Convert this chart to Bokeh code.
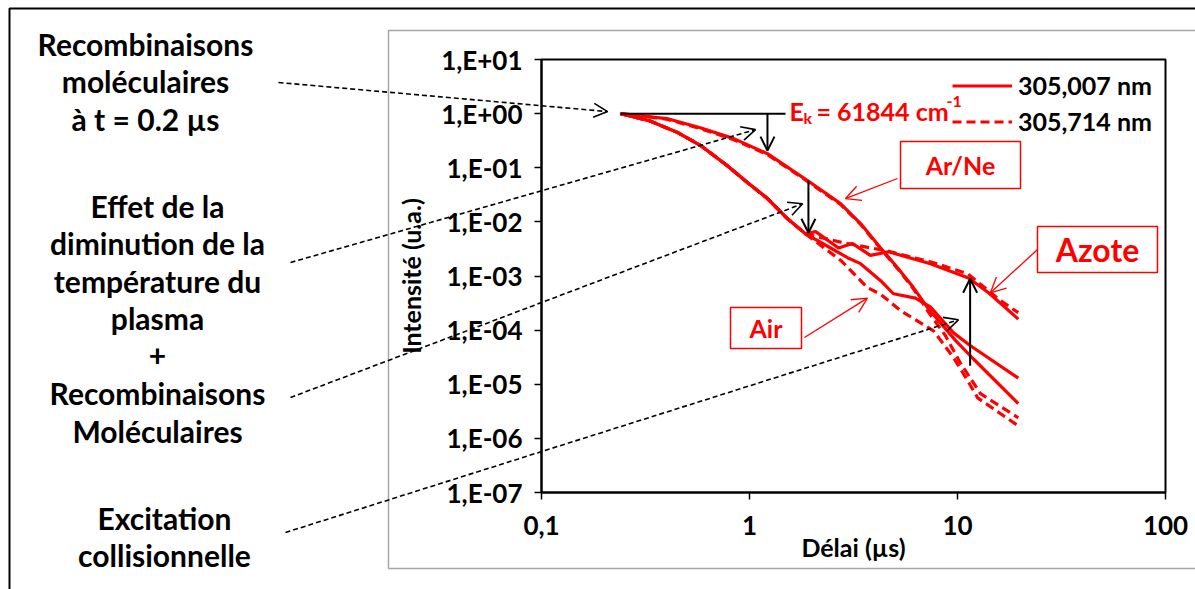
import math
from bokeh.plotting import figure
from bokeh.models import (Range1d, FixedTicker, CustomJSTickFormatter, Label, Arrow, OpenHead,
                          BoxAnnotation, PolyAnnotation, Legend, LegendItem, LogAxis)
from bokeh.embed import file_html
from bokeh.resources import INLINE

FONT = "Lato"
RED = "#FF0000"

# ---------------- data (delay in µs, intensity in a.u.) ----------------
t_common = [0.24, 0.33, 0.45, 0.58, 0.78, 0.98, 1.22, 1.52, 1.86]
i_common = [1.0, 0.74, 0.45, 0.26, 0.11, 0.053, 0.027, 0.0115, 0.0060]

arne_t = [0.24, 0.40, 0.58, 0.84, 1.22, 1.90, 2.74, 3.42, 4.27, 5.15, 6.14, 7.18, 9.8, 11.9, 19.6]
arne_solid = [1.0, 0.81, 0.55, 0.345, 0.182, 0.058, 0.0217, 0.0093, 0.0033, 0.00142, 0.00061,
              0.00026, 6.4e-5, 2.96e-5, 4.4e-6]
arne_dash_t = [0.24, 0.40, 0.58, 0.84, 1.22, 1.90, 2.74, 3.42, 4.27, 5.15, 6.14, 7.18, 8.75, 10.3, 12.9, 19.6]
arne_dash = [1.0, 0.79, 0.53, 0.33, 0.175, 0.056, 0.021, 0.0090, 0.0032, 0.00137, 0.00058,
             0.000228, 7.9e-5, 2.5e-5, 6.7e-6, 2.4e-6]

air_t = t_common + [2.27, 2.96, 3.42, 4.27, 4.92, 6.28, 7.4, 9.57, 11.5, 19.6]
air_solid = i_common + [0.0039, 0.00218, 0.00169, 8.2e-4, 4.7e-4, 3.9e-4, 2.7e-4, 8.9e-5, 5.2e-5, 1.3e-5]
air_dash_t = t_common + [2.77, 3.69, 4.27, 5.32, 7.67, 9.57, 11.2, 12.5, 19.6]
air_dash = i_common + [0.00189, 6.1e-4, 4.6e-4, 2.3e-4, 9.7e-5, 3.1e-5, 1.16e-5, 5.6e-6, 1.7e-6]

azote_t = t_common + [2.08, 2.68, 3.12, 3.81, 4.66, 7.41, 11.3, 14.1, 19.6]
azote_solid = i_common + [0.0066, 0.0033, 0.0040, 0.0024, 0.0028, 0.00168, 0.00092, 4.9e-4, 1.6e-4]
azote_dash_t = t_common + [2.83, 4.61, 7.67, 11.2, 16.1, 19.6]
azote_dash = i_common + [0.0041, 0.0029, 0.00176, 0.0011, 3.5e-4, 2.1e-4]

x_ticks = [0.1, 1, 10, 100]
y_ticks = [1e-7, 1e-6, 1e-5, 1e-4, 1e-3, 1e-2, 1e-1, 1, 10]

legend_labels = ["305,007 nm", "305,714 nm"]
gas_labels = ["Ar/Ne", "Azote", "Air"]
left_texts = [
    ["Recombinaisons", "moléculaires", "à t = 0.2 µs"],
    ["Effet de la", "diminution de la", "température du", "plasma", "+", "Recombinaisons", "Moléculaires"],
    ["Excitation", "collisionnelle"],
]

# annotation anchors (data coordinates)
ek_line = dict(x0=0.24, x1=1.49, y=1.0)
down_arrows = [(1.22, 1.0, 0.207), (1.92, 0.058, 0.0063)]
up_arrow = (11.5, 2.2e-5, 8.9e-4)
pointer_tips = [(0.208, 1.09), (1.069, 0.506), (1.80, 0.0216), (10.1, 1.55e-4)]
gas_tips = [(2.89, 0.0268), (14.4, 4.9e-4), (3.69, 3.9e-4)]

# ---------------- figure (frame = whole canvas) ----------------
W, H = 1195, 589
AX_L, AX_R, AX_T, AX_B = 541, 1165, 59, 492       # plot-area edges in canvas px
XMIN, XMAX, YMIN, YMAX = x_ticks[0], x_ticks[-1], y_ticks[0], y_ticks[-1]
dx = (AX_R - AX_L) / math.log10(XMAX / XMIN)
dy = (AX_B - AX_T) / math.log10(YMAX / YMIN)
x_range = Range1d(10 ** (math.log10(XMIN) - AX_L / dx), 10 ** (math.log10(XMAX) + (W - AX_R) / dx))
y_range = Range1d(10 ** (math.log10(YMIN) - (H - AX_B) / dy), 10 ** (math.log10(YMAX) + AX_T / dy))

p = figure(width=W, height=H, x_axis_type="log", y_axis_type="log",
           x_range=x_range, y_range=y_range, x_axis_location=None, y_axis_location=None,
           output_backend="svg", toolbar_location=None,
           min_border_left=0, min_border_top=0, min_border_right=0, min_border_bottom=0)
p.grid.visible = False
p.outline_line_color = None
p.background_fill_color = "white"
p.border_fill_color = "white"


def sx(page_x):
    return page_x


def sy(page_y):
    return H - page_y


# ---------------- borders of the picture ----------------
p.add_layout(PolyAnnotation(xs=[sx(9), sx(1400), sx(1400), sx(9)], ys=[sy(8), sy(8), sy(800), sy(800)],
                            xs_units="screen", ys_units="screen", fill_alpha=0,
                            line_color="black", line_alpha=1, line_width=2, level="underlay"))
p.add_layout(PolyAnnotation(xs=[sx(388), sx(1400), sx(1400), sx(388)], ys=[sy(30), sy(30), sy(568), sy(568)],
                            xs_units="screen", ys_units="screen", fill_alpha=0,
                            line_color="#A6A6A6", line_alpha=1, line_width=1.5, level="underlay"))
p.add_layout(BoxAnnotation(left=XMIN, right=XMAX, bottom=YMIN, top=YMAX, fill_alpha=0,
                           line_color="black", line_alpha=1, line_width=2, level="underlay"))

# ---------------- axes ----------------
xaxis = LogAxis(fixed_location=YMIN, bounds=(XMIN, XMAX), ticker=FixedTicker(ticks=x_ticks),
                axis_label="Délai (µs)")
yaxis = LogAxis(fixed_location=XMIN, bounds=(YMIN, YMAX), ticker=FixedTicker(ticks=y_ticks),
                axis_label="Intensité (u.a.)")
xaxis.formatter = CustomJSTickFormatter(code="""
    if (tick < 1) { return String(tick).replace('.', ','); }
    return String(Math.round(tick));
""")
yaxis.formatter = CustomJSTickFormatter(code="""
    const e = Math.round(Math.log10(tick));
    const s = (e < 0 ? '-' : '+') + String(Math.abs(e)).padStart(2, '0');
    return '1,E' + s;
""")
for ax in (xaxis, yaxis):
    ax.axis_line_width = 2
    ax.axis_line_color = "black"
    ax.major_tick_line_width = 1.5
    ax.major_tick_out = 7
    ax.major_tick_in = 0
    ax.minor_tick_line_color = None
    ax.major_label_text_font = FONT
    ax.major_label_text_font_style = "bold"
    ax.major_label_text_font_size = "26px"
    ax.major_label_text_color = "black"
    ax.axis_label_text_font = FONT
    ax.axis_label_text_font_style = "bold"
    ax.axis_label_text_font_size = "25px"
    ax.axis_label_text_color = "black"
xaxis.major_label_standoff = 16
yaxis.major_label_standoff = 12
xaxis.axis_label_standoff = -6
yaxis.axis_label_standoff = 12
p.add_layout(xaxis, "below")
p.add_layout(yaxis, "left")

# ---------------- curves ----------------
lw = 3.2
r_arne_s = p.line(arne_t, arne_solid, line_color=RED, line_width=lw)
r_arne_d = p.line(arne_dash_t, arne_dash, line_color=RED, line_width=lw, line_dash="9 5")
p.line(air_t, air_solid, line_color=RED, line_width=lw)
p.line(air_dash_t, air_dash, line_color=RED, line_width=lw, line_dash="9 5")
p.line(azote_t, azote_solid, line_color=RED, line_width=lw)
p.line(azote_dash_t, azote_dash, line_color=RED, line_width=lw, line_dash="9 5")

legend = Legend(items=[LegendItem(label=legend_labels[0], renderers=[r_arne_s]),
                       LegendItem(label=legend_labels[1], renderers=[r_arne_d])],
                location=(sx(952), sy(136)), padding=0, spacing=6, glyph_width=60, glyph_height=29,
                label_standoff=6, border_line_color=None, background_fill_alpha=0,
                label_text_font=FONT, label_text_font_style="bold", label_text_font_size="25px",
                label_text_color="black")
p.add_layout(legend)

# ---------------- black annotation arrows ----------------
p.add_layout(Arrow(x_start=ek_line["x0"], y_start=ek_line["y"], x_end=ek_line["x1"], y_end=ek_line["y"],
                   end=None, line_color="black", line_width=2))
for x, y0, y1 in down_arrows + [up_arrow]:
    p.add_layout(Arrow(x_start=x, y_start=y0, x_end=x, y_end=y1, line_color="black", line_width=2,
                       end=OpenHead(size=14, line_color="black", line_width=2)))

starts = [(278, 82), (290, 262), (290, 397), (285, 532)]
for (px_, py_), (tx, ty) in zip(starts, pointer_tips):
    p.add_layout(Arrow(x_start=sx(px_), y_start=sy(py_), start_units="screen",
                       x_end=tx, y_end=ty, end_units="data",
                       line_color="black", line_width=1.6, line_dash="5 3",
                       end=OpenHead(size=14, line_color="black", line_width=1.6)))

# ---------------- gas boxes ----------------
boxes = [(900, 1020, 141, 188, 25), (1037, 1157, 226, 272, 32), (730, 801, 307, 348, 25)]
box_arrow_starts = [(897, 178), (1037, 249), (804, 337)]
for (l, r, t, b, fs), lab, (ax_, ay_), (tx, ty) in zip(boxes, gas_labels, box_arrow_starts, gas_tips):
    p.add_layout(BoxAnnotation(left=sx(l), right=sx(r), top=sy(t), bottom=sy(b),
                               left_units="screen", right_units="screen", top_units="screen",
                               bottom_units="screen", fill_color="white", fill_alpha=1,
                               line_color=RED, line_alpha=1, line_width=1.5))
    p.add_layout(Label(x=sx((l + r) / 2), y=sy((t + b) / 2), x_units="screen", y_units="screen",
                       text=lab, text_align="center", text_baseline="middle",
                       text_font=FONT, text_font_style="bold", text_font_size=f"{fs}px",
                       text_color=RED))
    p.add_layout(Arrow(x_start=sx(ax_), y_start=sy(ay_), start_units="screen",
                       x_end=tx, y_end=ty, end_units="data", line_color=RED, line_width=1.3,
                       end=OpenHead(size=15, line_color=RED, line_width=1.3)))

# ---------------- E_k label ----------------
ek_parts = [("E", 789, 110, 25), ("k", 803, 117, 16), ("= 61844 cm", 816, 110, 25), ("-1", 946, 101, 16)]
for txt, x_, y_, fs in ek_parts:
    p.add_layout(Label(x=sx(x_), y=sy(y_), x_units="screen", y_units="screen", text=txt,
                       text_align="left", text_baseline="alphabetic", text_font=FONT,
                       text_font_style="bold", text_font_size=f"{fs}px", text_color=RED))

# ---------------- left explanatory texts ----------------
group_pos = [(145, 43), (157, 205), (164, 517)]
for lines, (cx, y0) in zip(left_texts, group_pos):
    for k, line in enumerate(lines):
        p.add_layout(Label(x=sx(cx), y=sy(y0 + 37.5 * k), x_units="screen", y_units="screen",
                           text=line, text_align="center", text_baseline="middle",
                           text_font=FONT, text_font_style="bold", text_font_size="30px",
                           text_color="black"))

open("out.html", "w").write(file_html(p, INLINE))
